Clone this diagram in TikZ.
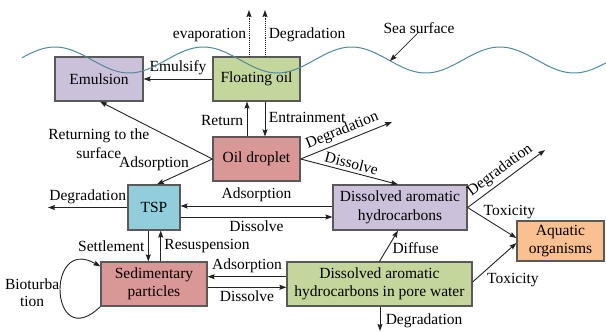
\documentclass[tikz,border=0pt]{standalone}
\usepackage{fontspec}
\setmainfont{Liberation Serif}
\newfontfamily\lserif{Liberation Serif}
\usetikzlibrary{arrows.meta}
\definecolor{cPurple}{HTML}{CCC1DA}
\definecolor{cGreen}{HTML}{C3D69B}
\definecolor{cRed}{HTML}{D99795}
\definecolor{cBlue}{HTML}{92CDDC}
\definecolor{cOrange}{HTML}{FAC090}
\definecolor{boxline}{HTML}{595959}
\definecolor{lineC}{HTML}{222222}
\definecolor{waveC}{HTML}{4D8B9B}
\begin{document}
\begin{tikzpicture}[x=1pt,y=-1pt,
  font=\lserif\fontsize{15.5}{18.5}\selectfont,
  box/.style={draw=boxline, line width=1.2pt, inner sep=0pt, align=center},
  conn/.style={draw=lineC, line width=0.9pt, -{Stealth[length=7pt,width=5pt,inset=1pt]}},
  wave/.style={draw=waveC, line width=1pt},
]
\useasboundingbox (0,0) rectangle (606,332);

% boxes
\node[box, fill=cPurple, minimum width=88pt, minimum height=44pt] (em) at (99,79) {Emulsion};
\node[box, fill=cGreen, minimum width=87pt, minimum height=44pt] (fo) at (256.5,79) {Floating oil};
\node[box, fill=cRed, minimum width=87pt, minimum height=44pt] (dr) at (256.5,159) {Oil droplet};
\node[box, fill=cBlue, minimum width=52pt, minimum height=45pt] (tsp) at (154,207.5) {TSP};
\node[box, fill=cRed, minimum width=106pt, minimum height=44pt] (sed) at (154,284) {Sedimentary\\particles};
\node[box, fill=cPurple, minimum width=134pt, minimum height=45pt] (da) at (400,207.5) {Dissolved aromatic\\hydrocarbons};
\node[box, fill=cGreen, minimum width=185pt, minimum height=44pt] (pw) at (379.5,284) {Dissolved aromatic\\hydrocarbons in pore water};
\node[box, fill=cOrange, minimum width=87pt, minimum height=40pt] (aq) at (560.5,241) {Aquatic\\organisms};

% free ends
\coordinate (evapE) at (249,10);
\coordinate (degE) at (265,10);
\coordinate (dgA) at (392,122);
\coordinate (dgB) at (545,150);
\coordinate (dgC) at (380,331);
\coordinate (dgD) at (48,207.5);
\coordinate (seaPt) at (390,61);

% floating oil
\draw[conn, densely dotted] (fo.north -| evapE) -- (evapE) node[pos=0.47, left, inner sep=2.5pt] {evaporation};
\draw[conn, densely dotted] (fo.north -| degE) -- (degE) node[pos=0.47, right] {Degradation};
\draw[conn] (fo.west) -- (em.east) node[midway, above] {Emulsify};
\draw[conn] ([xshift=-9.5pt]dr.north) -- ([xshift=-9.5pt]fo.south) node[pos=0.45, left] {Return};
\draw[conn] ([xshift=8.5pt]fo.south) -- ([xshift=8.5pt]dr.north) node[pos=0.45, right] {Entrainment};

% oil droplet
\draw[conn] (dr.west) -- ([xshift=1pt]em.south) node[pos=0.55, anchor=north east, inner sep=1pt, align=center] {Returning to the\\surface};
\draw[conn] (dr.west) -- ([xshift=3pt]tsp.north) node[pos=0.2, anchor=base east, inner sep=0pt, xshift=-12pt, yshift=-3pt] {Adsorption};
\draw[conn] (dr.east) -- (dgA) node[midway, sloped, above, inner sep=3pt] {Degradation};
\draw[conn] (dr.east) -- ([xshift=-2pt]da.north) node[midway, sloped, above, inner sep=3pt] {Dissolve};

% dissolved aromatic
\draw[conn] (da.east) -- (dgB) node[midway, sloped, above, inner sep=3pt] {Degradation};
\draw[conn] (da.east) -- ([yshift=3pt]aq.west) node[pos=0.3, anchor=base west, inner sep=1pt, yshift=1pt] {Toxicity};
\draw[conn] ([yshift=1.5pt]da.west) -- ([yshift=1.5pt]tsp.east) node[midway, above] {Adsorption};
\draw[conn] ([yshift=-9.5pt]tsp.east) -- ([yshift=-9.5pt]da.west) node[midway, below] {Dissolve};

% TSP
\draw[conn] (tsp.west) -- (dgD) node[midway, above] {Degradation};
\draw[conn] ([xshift=-5.7pt]tsp.south) -- ([xshift=-5.7pt]sed.north) node[midway, left] {Settlement};
\draw[conn] ([xshift=6.7pt]sed.north) -- ([xshift=6.7pt]tsp.south) node[midway, right] {Resuspension};

% pore water
\draw[conn] ([yshift=7.3pt]pw.west) -- ([yshift=7.3pt]sed.east) node[midway, above] {Adsorption};
\draw[conn] ([yshift=-3.3pt]sed.east) -- ([yshift=-3.3pt]pw.west) node[midway, below] {Dissolve};
\draw[conn] (pw.north) -- ([xshift=-2pt]da.south) node[midway, right, yshift=-2pt] {Diffuse};
\draw[conn] ([yshift=2pt]pw.east) -- ([yshift=-2pt]aq.west) node[pos=0.3, anchor=north west, inner sep=1pt, yshift=-1.5pt] {Toxicity};
\draw[conn] (pw.south -| dgC) -- (dgC) node[pos=0.6, right, xshift=2pt] {Degradation};

% bioturbation loop
\draw[conn] (sed.south west) .. controls (50,355) and (45,235) .. ([yshift=-5pt]sed.north west)
  node[pos=0.5, anchor=east, inner sep=1pt, align=center, font=\lserif\fontsize{15.5}{17.5}\selectfont] {Bioturba\\tion};

% sea surface
\draw[wave] plot[domain=22:606, samples=200, smooth] (\x, {60 - 13*cos(2.42751*(\x-55))});
\node[inner sep=1pt] (sea) at (419,28) {Sea surface};
\draw[conn, line width=0.7pt] ([yshift=3pt]sea.south) -- (seaPt);
\end{tikzpicture}
\end{document}
